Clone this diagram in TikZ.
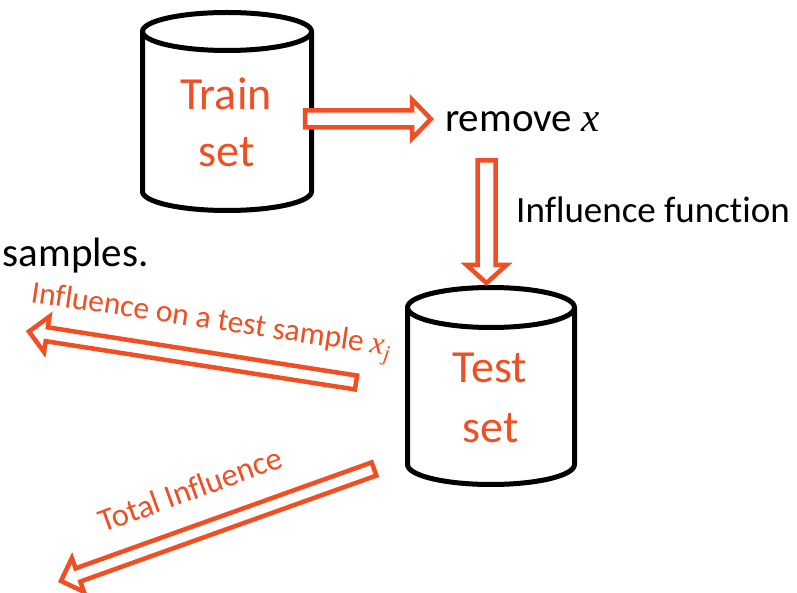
\documentclass[tikz,border=0pt]{standalone}
\usepackage{fontspec}
\setmainfont{Carlito}[Ligatures=CommonOff]
\newfontfamily\mitfont{Liberation Serif}
\newcommand{\mvar}[1]{{\mitfont\itshape #1}}
\usetikzlibrary{calc}
\definecolor{ored}{RGB}{240,78,35}
\tikzset{
  cyl/.style={line width=5pt, line join=round},
  barrow/.style={draw=ored, fill=white, line width=4.5pt, line join=miter},
  redbig/.style={text=ored, font=\fontsize{46}{57}\selectfont, inner sep=0pt},
  redsmall/.style={text=ored, font=\fontsize{31.5}{37}\selectfont, inner sep=0pt},
  blacktxt/.style={text=black, inner sep=0pt},
}
\newcommand{\blockarrow}[5]{%
  \path coordinate (bah) at ($(#2)!#5!(#1)$);
  \draw[barrow] ($(#1)!#3!90:(#2)$) -- ($(bah)!#3!90:(#2)$) -- ($(bah)!#4!90:(#2)$) -- (#2)
    -- ($(bah)!#4!-90:(#2)$) -- ($(bah)!#3!-90:(#2)$) -- ($(#1)!#3!-90:(#2)$) -- cycle;}
\begin{document}
\begin{tikzpicture}[x=1pt,y=1pt]
\useasboundingbox (0,0) rectangle (797,-593);
% Train cylinder
\node[minimum width=169pt, minimum height=198pt, inner sep=0pt] (trainc) at (227,-111) {};
\draw[cyl] (142.5,-31.5) -- (142.5,-191.5) arc[start angle=180,end angle=360,x radius=84.5,y radius=19] -- (311.5,-31.5);
\draw[cyl] (227,-31.5) ellipse [x radius=84.5, y radius=19];
\node[redbig, anchor=base] (trainl1) at (226,-110) {Train};
\node[redbig, anchor=base] (trainl2) at (227,-167) {set};
% Test cylinder
\node[minimum width=167pt, minimum height=197pt, inner sep=0pt] (testc) at (491,-386) {};
\draw[cyl] (407.5,-307.5) -- (407.5,-464.5) arc[start angle=180,end angle=360,x radius=83.5,y radius=20] -- (574.5,-307.5);
\draw[cyl] (491,-307.5) ellipse [x radius=83.5, y radius=20];
\node[redbig, anchor=base] (testl1) at (490,-382) {Test};
\node[redbig, anchor=base] (testl2) at (491,-442) {set};
% black texts
\node[blacktxt, font=\fontsize{41}{49}\selectfont, anchor=base west] (remove) at (445,-132) {remove \mvar{x}};
\node[blacktxt, font=\fontsize{37}{44}\selectfont, anchor=base west] (inflfun) at (516,-223) {Influence function};
\node[blacktxt, font=\fontsize{41}{49}\selectfont, anchor=base east] (samples) at (149,-267) {samples.};
% arrows
\coordinate (a1s) at (305,-119);
\coordinate (a1e) at (431,-119);
\blockarrow{a1s}{a1e}{8.5pt}{19.5pt}{19pt}
\coordinate (a2s) at (486.5,-160.5);
\coordinate (a2e) at (486.5,-283);
\blockarrow{a2s}{a2e}{9pt}{20pt}{18pt}
\coordinate (a3s) at (356,-382.5);
\coordinate (a3e) at (29,-331.5);
\blockarrow{a3s}{a3e}{7pt}{18pt}{18pt}
\coordinate (a4s) at (374,-469);
\coordinate (a4e) at (61,-581);
\blockarrow{a4s}{a4e}{7pt}{18pt}{18pt}
% red rotated labels
\node[redsmall, anchor=base west, rotate=-8.5] (lbl1) at (30,-302) {Influence on a test sample \mvar{x}\textsubscript{\mvar{j}}};
\node[redsmall, font=\fontsize{32.5}{38}\selectfont, anchor=base west, rotate=20] (lbl2) at (103,-533) {Total Influence};
\end{tikzpicture}
\end{document}
